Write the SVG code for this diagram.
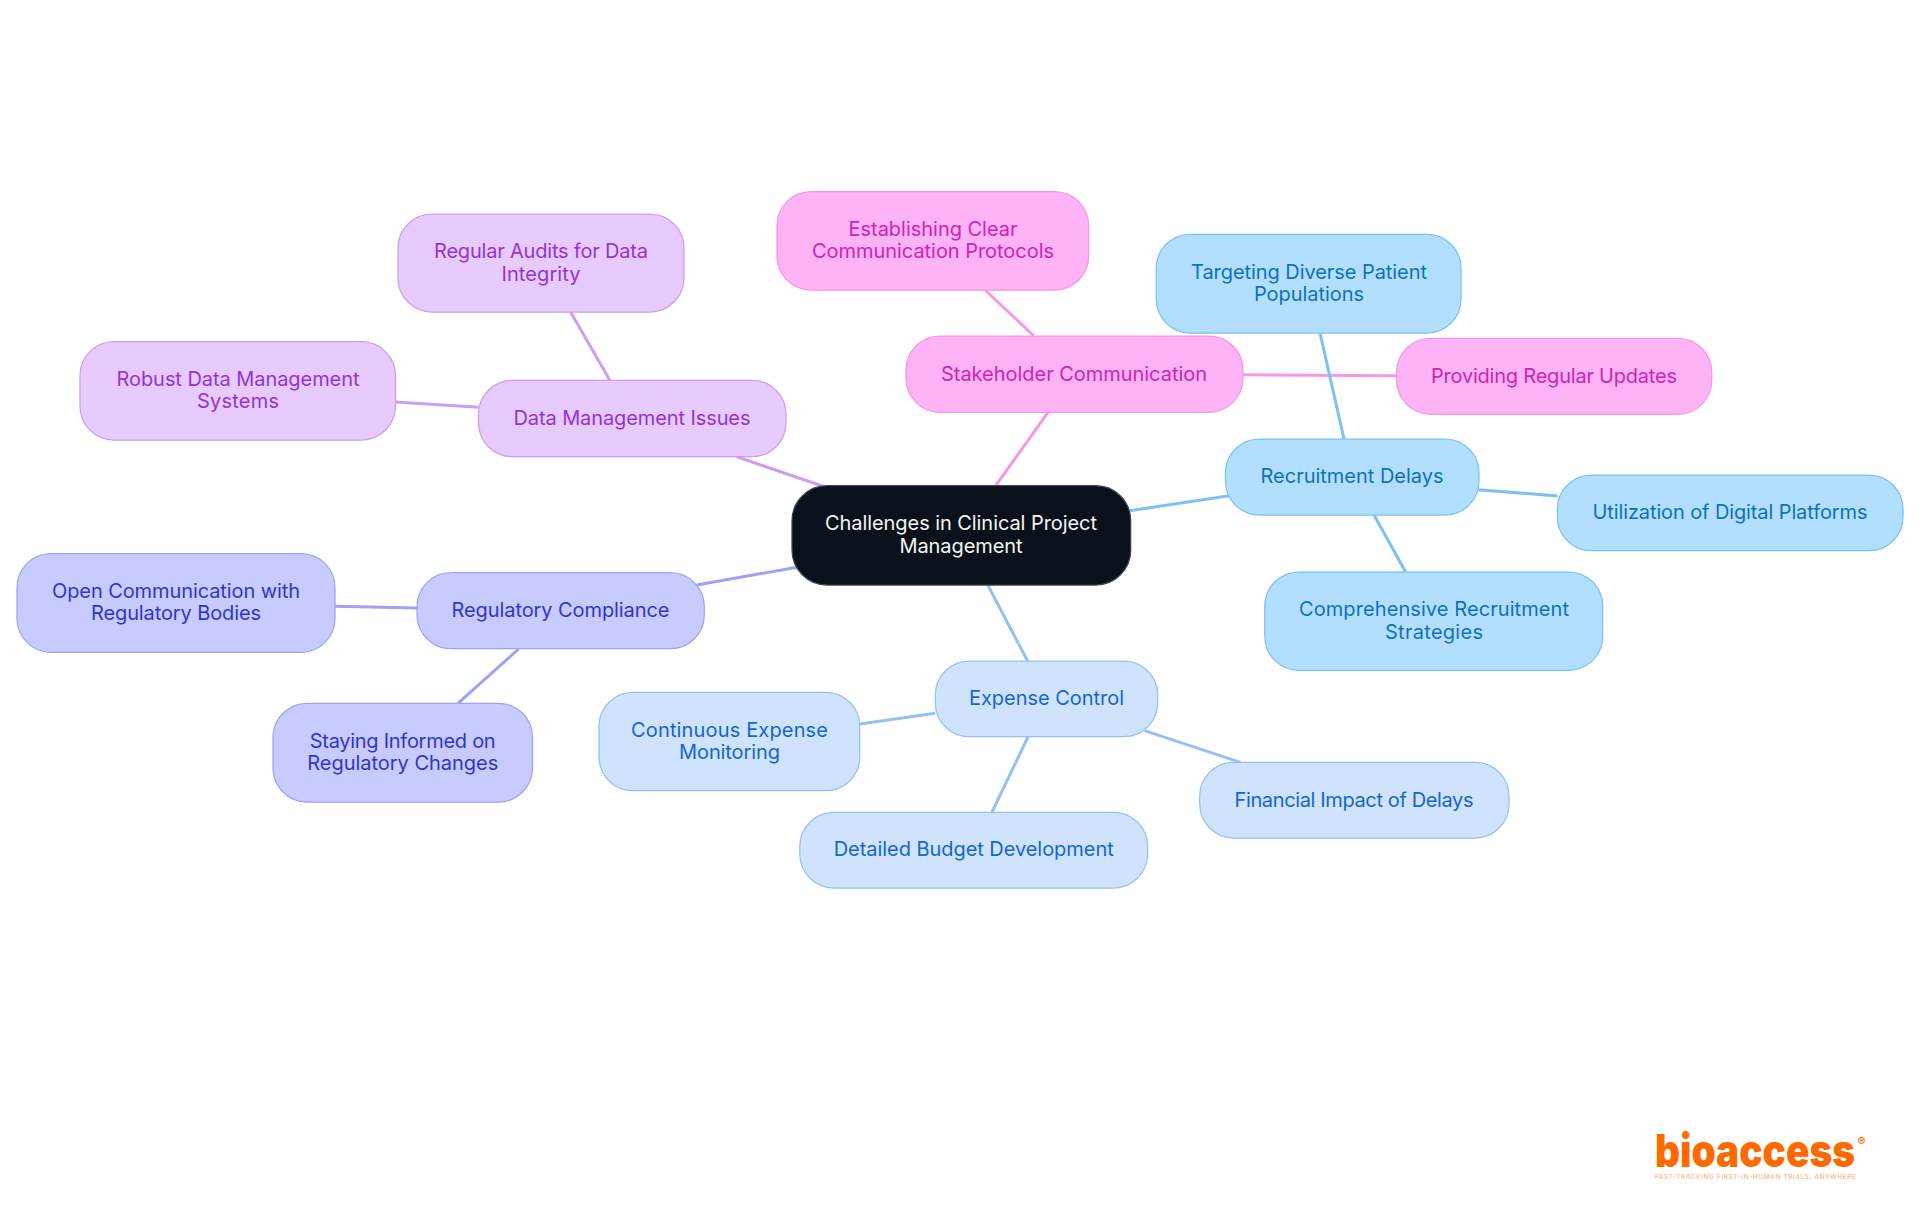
<svg xmlns="http://www.w3.org/2000/svg" width="1920" height="1215" viewBox="0 0 1920 1215">
<style>
text{font-family:"Inter","Noto Sans","Liberation Sans",sans-serif;font-size:20px;text-anchor:middle}
rect{stroke-width:1.25}
#connectors line{stroke-width:3;stroke-linecap:butt}
.k rect{fill:#0b111a;stroke:#3f444b}.k text{fill:#f4f5f6}
.b rect{fill:#b3dffe;stroke:#7cc0f5}.b text{fill:#0f70c0}
.l rect{fill:#cfe3fc;stroke:#96c0f2}.l text{fill:#1565d0}
.i rect{fill:#c8cbfe;stroke:#9da2f5}.i text{fill:#3035cf}
.p rect{fill:#e7cafe;stroke:#cc9df5}.p text{fill:#9333db}
.m rect{fill:#fdb3f5;stroke:#f597e4}.m text{fill:#d222b5}
line.cb{stroke:#7cc0f5}line.cl{stroke:#96c0f2}line.ci{stroke:#9da2f5}line.cp{stroke:#cc9df5}line.cm{stroke:#f597e4}
</style>
<rect width="1920" height="1215" fill="#ffffff" style="stroke:none"/>
<g id="connectors">
<line class="cp" x1="736.7" y1="456.7" x2="825" y2="487"/>
<line class="ci" x1="696.7" y1="585" x2="800" y2="566.7"/>
<line class="cm" x1="995.7" y1="485.7" x2="1048" y2="412.3"/>
<line class="cb" x1="1128" y1="511" x2="1229.3" y2="495.7"/>
<line class="cl" x1="986.7" y1="583" x2="1027.6" y2="661"/>
<line class="ci" x1="335" y1="606.3" x2="417" y2="608"/>
<line class="ci" x1="518.6" y1="649" x2="457.9" y2="703.3"/>
<line class="cp" x1="570.6" y1="312" x2="609.8" y2="380.3"/>
<line class="cp" x1="395.5" y1="402" x2="478.5" y2="407.3"/>
<line class="cm" x1="985" y1="290" x2="1034" y2="336"/>
<line class="cm" x1="1243" y1="374.7" x2="1396.6" y2="375.7"/>
<line class="cb" x1="1320" y1="333" x2="1344" y2="439"/>
<line class="cb" x1="1478" y1="489.7" x2="1557.4" y2="496"/>
<line class="cb" x1="1374" y1="515" x2="1405.7" y2="572"/>
<line class="cl" x1="860" y1="724" x2="935.3" y2="713.3"/>
<line class="cl" x1="1028" y1="737" x2="992" y2="812"/>
<line class="cl" x1="1144.6" y1="730.7" x2="1240.5" y2="762.3"/>
</g>
<g id="n-center" class="k"><rect x="792" y="485.7" width="338.7" height="99.3" rx="35"/><text x="961" y="530" textLength="272">Challenges in Clinical Project</text><text x="961" y="552.7" textLength="123">Management</text></g>
<g id="n-stakeholder" class="m"><rect x="906" y="336" width="337" height="76.3" rx="34"/><text x="1074" y="381" textLength="266">Stakeholder Communication</text></g>
<g id="n-establishing" class="m"><rect x="777" y="191.7" width="311.7" height="98.3" rx="34"/><text x="933" y="236" textLength="169">Establishing Clear</text><text x="933" y="258" textLength="242">Communication Protocols</text></g>
<g id="n-providing" class="m"><rect x="1396.6" y="338.3" width="315.2" height="76" rx="34"/><text x="1554" y="383" textLength="246">Providing Regular Updates</text></g>
<g id="n-recruitment" class="b"><rect x="1225.4" y="439" width="253.6" height="76" rx="34"/><text x="1352" y="483" textLength="183">Recruitment Delays</text></g>
<g id="n-targeting" class="b"><rect x="1156.2" y="234.3" width="304.8" height="98.7" rx="34"/><text x="1309" y="279" textLength="236">Targeting Diverse Patient</text><text x="1309" y="301" textLength="110">Populations</text></g>
<g id="n-utilization" class="b"><rect x="1557.4" y="475" width="345.6" height="75.7" rx="34"/><text x="1730" y="519" textLength="275">Utilization of Digital Platforms</text></g>
<g id="n-comprehensive" class="b"><rect x="1264.8" y="572" width="337.9" height="98.3" rx="34"/><text x="1434" y="616" textLength="270">Comprehensive Recruitment</text><text x="1434" y="639" textLength="98">Strategies</text></g>
<g id="n-expense" class="l"><rect x="935.3" y="661" width="222.4" height="75.7" rx="34"/><text x="1046.5" y="705" textLength="155">Expense Control</text></g>
<g id="n-continuous" class="l"><rect x="599" y="692.3" width="260.8" height="98.4" rx="34"/><text x="729.5" y="737" textLength="197">Continuous Expense</text><text x="729.5" y="759" textLength="101">Monitoring</text></g>
<g id="n-detailed" class="l"><rect x="799.8" y="812.3" width="347.8" height="75.7" rx="34"/><text x="973.7" y="856" textLength="280">Detailed Budget Development</text></g>
<g id="n-financial" class="l"><rect x="1199.7" y="762.3" width="309.3" height="75.7" rx="34"/><text x="1354" y="807" textLength="239">Financial Impact of Delays</text></g>
<g id="n-regulatory" class="i"><rect x="417" y="572.7" width="287.3" height="76" rx="34"/><text x="560.5" y="617" textLength="218">Regulatory Compliance</text></g>
<g id="n-open" class="i"><rect x="17" y="553.7" width="318" height="98.6" rx="34"/><text x="176" y="598" textLength="248">Open Communication with</text><text x="176" y="620" textLength="170">Regulatory Bodies</text></g>
<g id="n-staying" class="i"><rect x="273" y="703.3" width="259.5" height="98.7" rx="34"/><text x="402.7" y="748" textLength="186">Staying Informed on</text><text x="402.7" y="770" textLength="191">Regulatory Changes</text></g>
<g id="n-data" class="p"><rect x="478.5" y="380.3" width="307.5" height="76.4" rx="34"/><text x="632" y="425" textLength="237">Data Management Issues</text></g>
<g id="n-audits" class="p"><rect x="398" y="214" width="286" height="98" rx="34"/><text x="541" y="258" textLength="214">Regular Audits for Data</text><text x="541" y="281" textLength="79">Integrity</text></g>
<g id="n-robust" class="p"><rect x="80" y="341.7" width="315.5" height="98.3" rx="34"/><text x="238" y="386" textLength="243">Robust Data Management</text><text x="238" y="408" textLength="82">Systems</text></g>
<g id="logo">
<text x="1755" y="1167" textLength="200" lengthAdjust="spacingAndGlyphs" style="font-size:45px;font-weight:900;fill:#ff6a00">bioaccess</text>
<text x="1861.5" y="1146" style="font-size:12px;font-weight:700;fill:#ff6a00">®</text>
<text x="1755.5" y="1179" textLength="201" style="font-size:6.5px;fill:#ffa56a">FAST-TRACKING FIRST-IN-HUMAN TRIALS, ANYWHERE</text>
</g>
</svg>
